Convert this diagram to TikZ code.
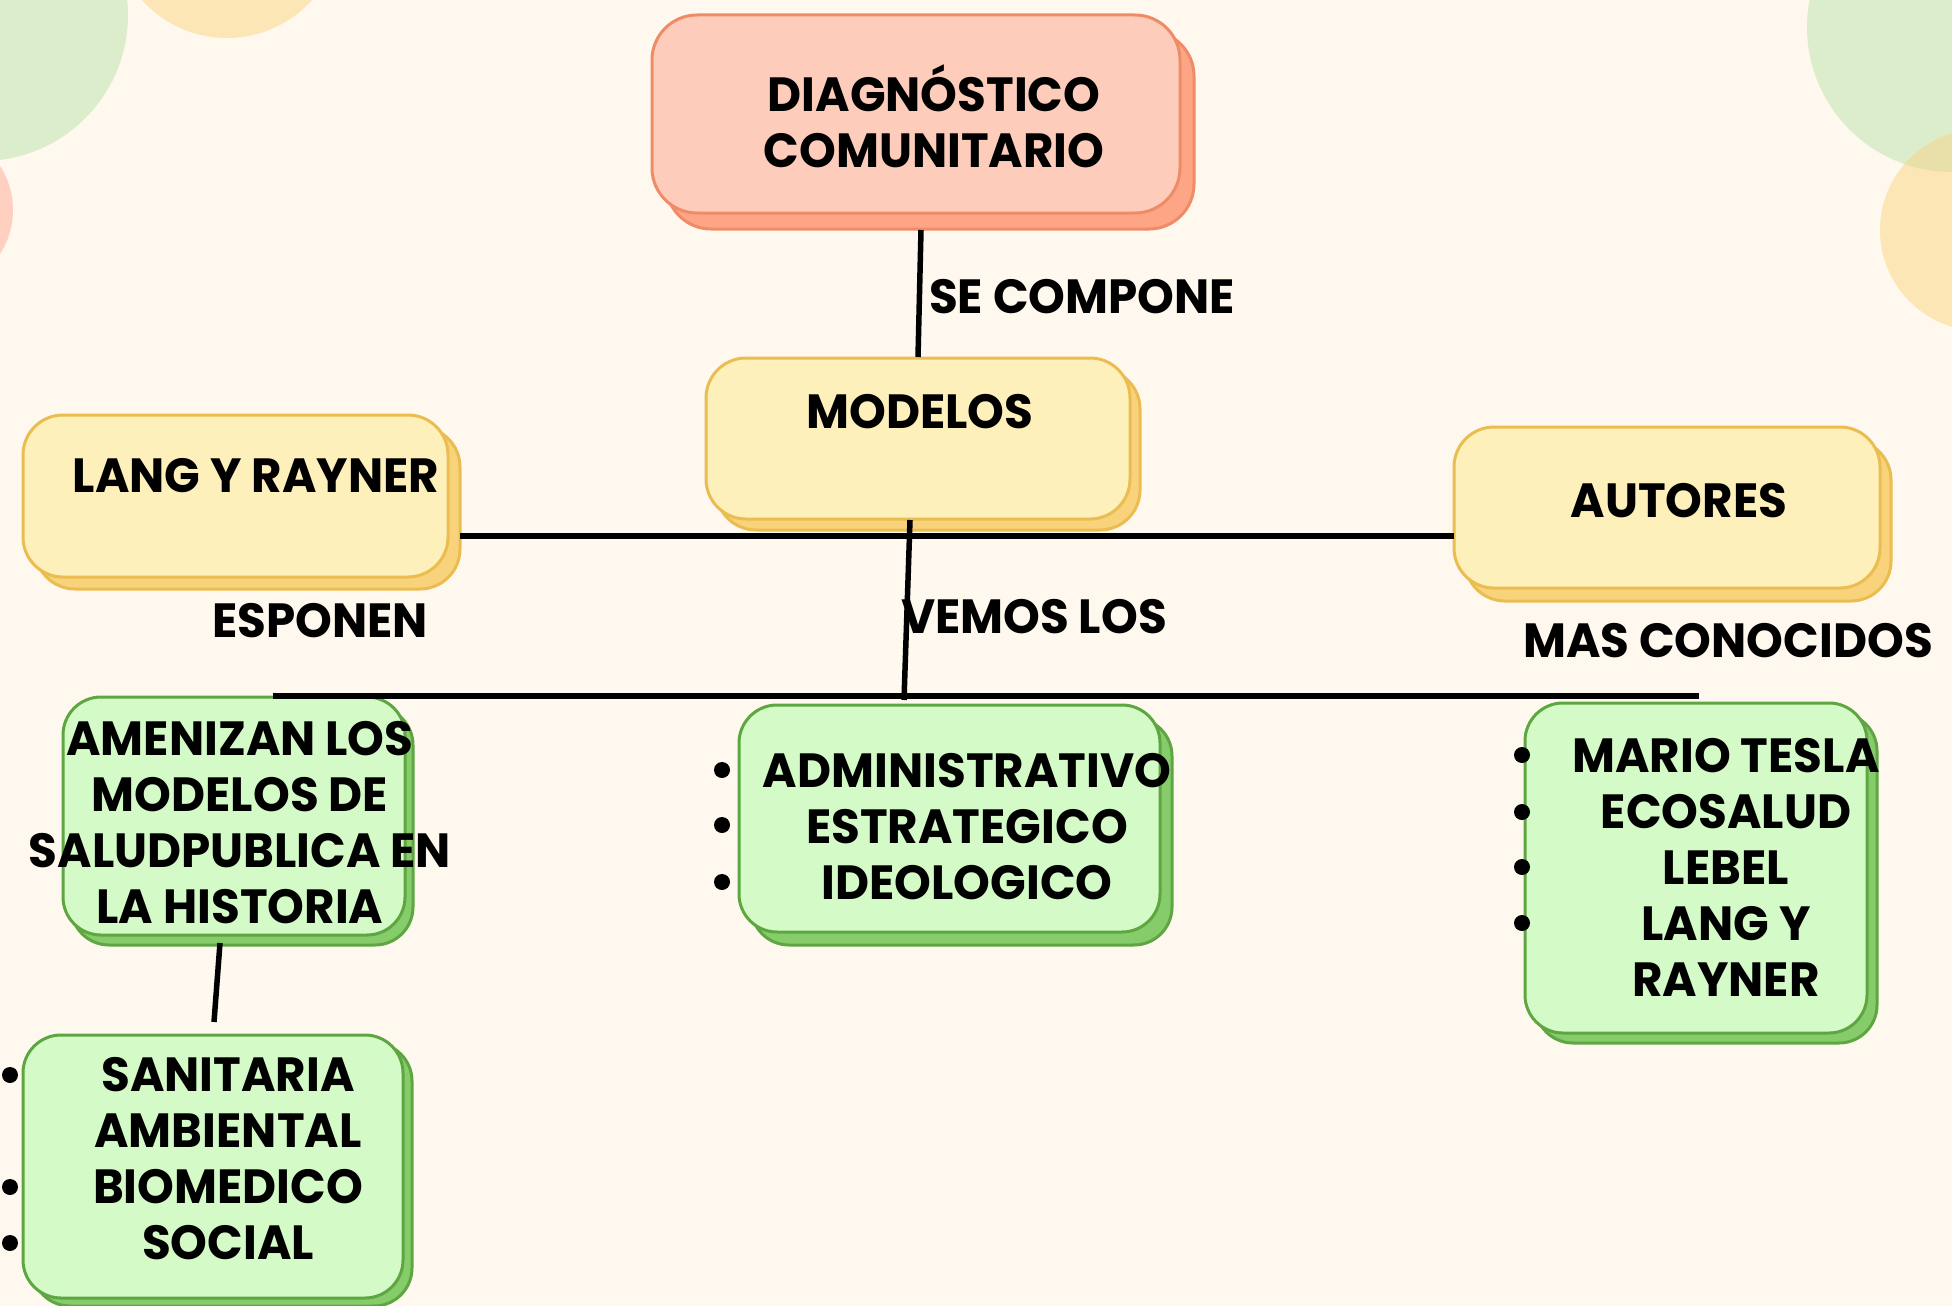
\documentclass[tikz,border=0pt]{standalone}
\usepackage{fontspec}
\setmainfont{Poppins}[FakeStretch=0.975]
\usetikzlibrary{shadows}
\definecolor{bgc}{HTML}{FFF8EE}
\definecolor{cgreen}{HTML}{DBEDCB}
\definecolor{cyellow}{HTML}{FCE6B6}
\definecolor{cpink}{HTML}{FFCFBF}
\definecolor{cmix}{HTML}{E9E0A9}
\definecolor{pfill}{HTML}{FDCCBB}
\definecolor{pbd}{HTML}{EF8C68}
\definecolor{psh}{HTML}{FDA585}
\definecolor{yfill}{HTML}{FEF0BB}
\definecolor{ybd}{HTML}{EBBD50}
\definecolor{ysh}{HTML}{F8D37B}
\definecolor{gfill}{HTML}{D4FBC7}
\definecolor{gbd}{HTML}{5DA641}
\definecolor{gsh}{HTML}{86CC6B}
\tikzset{
  pbox/.style 2 args={rectangle, rounded corners=45pt, fill=pfill, draw=pbd, line width=3pt,
    copy shadow={shadow xshift=#1pt, shadow yshift=-#2pt, opacity=1, fill=psh, draw=pbd, line width=3pt}},
  ybox/.style 2 args={rectangle, rounded corners=40pt, fill=yfill, draw=ybd, line width=3pt,
    copy shadow={shadow xshift=#1pt, shadow yshift=-#2pt, opacity=1, fill=ysh, draw=ybd, line width=3pt}},
  gbox/.style 2 args={rectangle, rounded corners=38pt, fill=gfill, draw=gbd, line width=3pt,
    copy shadow={shadow xshift=#1pt, shadow yshift=-#2pt, opacity=1, fill=gsh, draw=gbd, line width=3pt}},
  txt/.style={font=\fontsize{48}{56}\selectfont\bfseries, inner sep=0pt, align=center, anchor=base, text=black},
  blt/.style={circle, fill=black, inner sep=0pt, minimum size=16pt},
  conn/.style={line width=5.5pt, black},
}
\begin{document}
\begin{tikzpicture}[x=1pt,y=-1pt]
\fill[bgc] (0,0) rectangle (1952,1306);
\useasboundingbox (0,0) rectangle (1952,1306);
% decorative circles
\fill[cgreen] (-18,15) circle (146);
\fill[cyellow] (227,-76) circle (114);
\fill[cpink] (-68,210) circle (81);
\fill[cgreen] (1952,27) circle (145);
\fill[cyellow] (1981,230) circle (101);
\begin{scope}
  \clip (1952,27) circle (145);
  \fill[cmix] (1981,230) circle (101);
\end{scope}
% boxes
\node[pbox={14}{16}, minimum width=528pt, minimum height=198pt] (diag) at (916,114) {};
\node[ybox={10}{11}, minimum width=424pt, minimum height=161pt] (modelos) at (918,438.5) {};
\node[ybox={12}{12}, minimum width=425pt, minimum height=162pt] (lang) at (235.5,496) {};
\node[ybox={11}{13}, minimum width=426pt, minimum height=161pt] (autores) at (1667,507.5) {};
\node[gbox={8}{10}, minimum width=342pt, minimum height=238pt] (amen) at (234,816) {};
\node[gbox={9}{8}, minimum width=380pt, minimum height=263pt] (sani) at (213,1166.5) {};
\node[gbox={12}{13}, minimum width=421pt, minimum height=227pt] (admin) at (949.5,818.5) {};
\node[gbox={10}{10}, minimum width=342pt, minimum height=330pt] (autlist) at (1696,868) {};
% texts
\node[txt] (tdiag) at (934,167) {DIAGNÓSTICO\\COMUNITARIO};
\node[txt] (tsecomp) at (1082,313) {SE COMPONE};
\node[txt] (tmodelos) at (920,428) {MODELOS};
\node[txt] (tlang) at (256,492) {LANG Y RAYNER};
\node[txt] (tesponen) at (320,637) {ESPONEN};
\node[txt] (tautores) at (1679,517) {AUTORES};
\node[txt] (tmas) at (1728,657) {MAS CONOCIDOS};
\node[txt] (tvemos) at (1034,633) {VEMOS LOS};
\node[txt] (tamen) at (240,923) {AMENIZAN LOS\\MODELOS DE\\SALUDPUBLICA EN\\LA HISTORIA};
\node[txt] (tsani) at (228,1259) {SANITARIA\\AMBIENTAL\\BIOMEDICO\\SOCIAL};
\node[txt] (tadmin) at (967,899) {ADMINISTRATIVO\\ESTRATEGICO\\IDEOLOGICO};
\node[txt] (taut) at (1726,996) {MARIO TESLA\\ECOSALUD\\LEBEL\\LANG Y\\RAYNER};
% bullets
\node[blt] (bs1) at (10,1075) {};
\node[blt] (bs2) at (10,1187) {};
\node[blt] (bs3) at (10,1243) {};
\node[blt] (ba1) at (722,770) {};
\node[blt] (ba2) at (722,825) {};
\node[blt] (ba3) at (722,882) {};
\node[blt] (bl1) at (1522,755) {};
\node[blt] (bl2) at (1522,812) {};
\node[blt] (bl3) at (1522,867) {};
\node[blt] (bl4) at (1522,923) {};
% connectors
\coordinate (c1a) at (921,230);
\coordinate (c1b) at (918,357);
\draw[conn] (c1a) -- (c1b);
\coordinate (h1a) at (460,536);
\coordinate (h1b) at (1454,536);
\draw[conn] (h1a) -- (h1b);
\coordinate (c2a) at (910,520);
\coordinate (c2b) at (904,700);
\draw[conn] (c2a) -- (c2b);
\coordinate (h2a) at (273,696);
\coordinate (h2b) at (1699,696);
\draw[conn] (h2a) -- (h2b);
\coordinate (c3a) at (220,943);
\coordinate (c3b) at (214,1022);
\draw[conn] (c3a) -- (c3b);
\end{tikzpicture}
\end{document}
